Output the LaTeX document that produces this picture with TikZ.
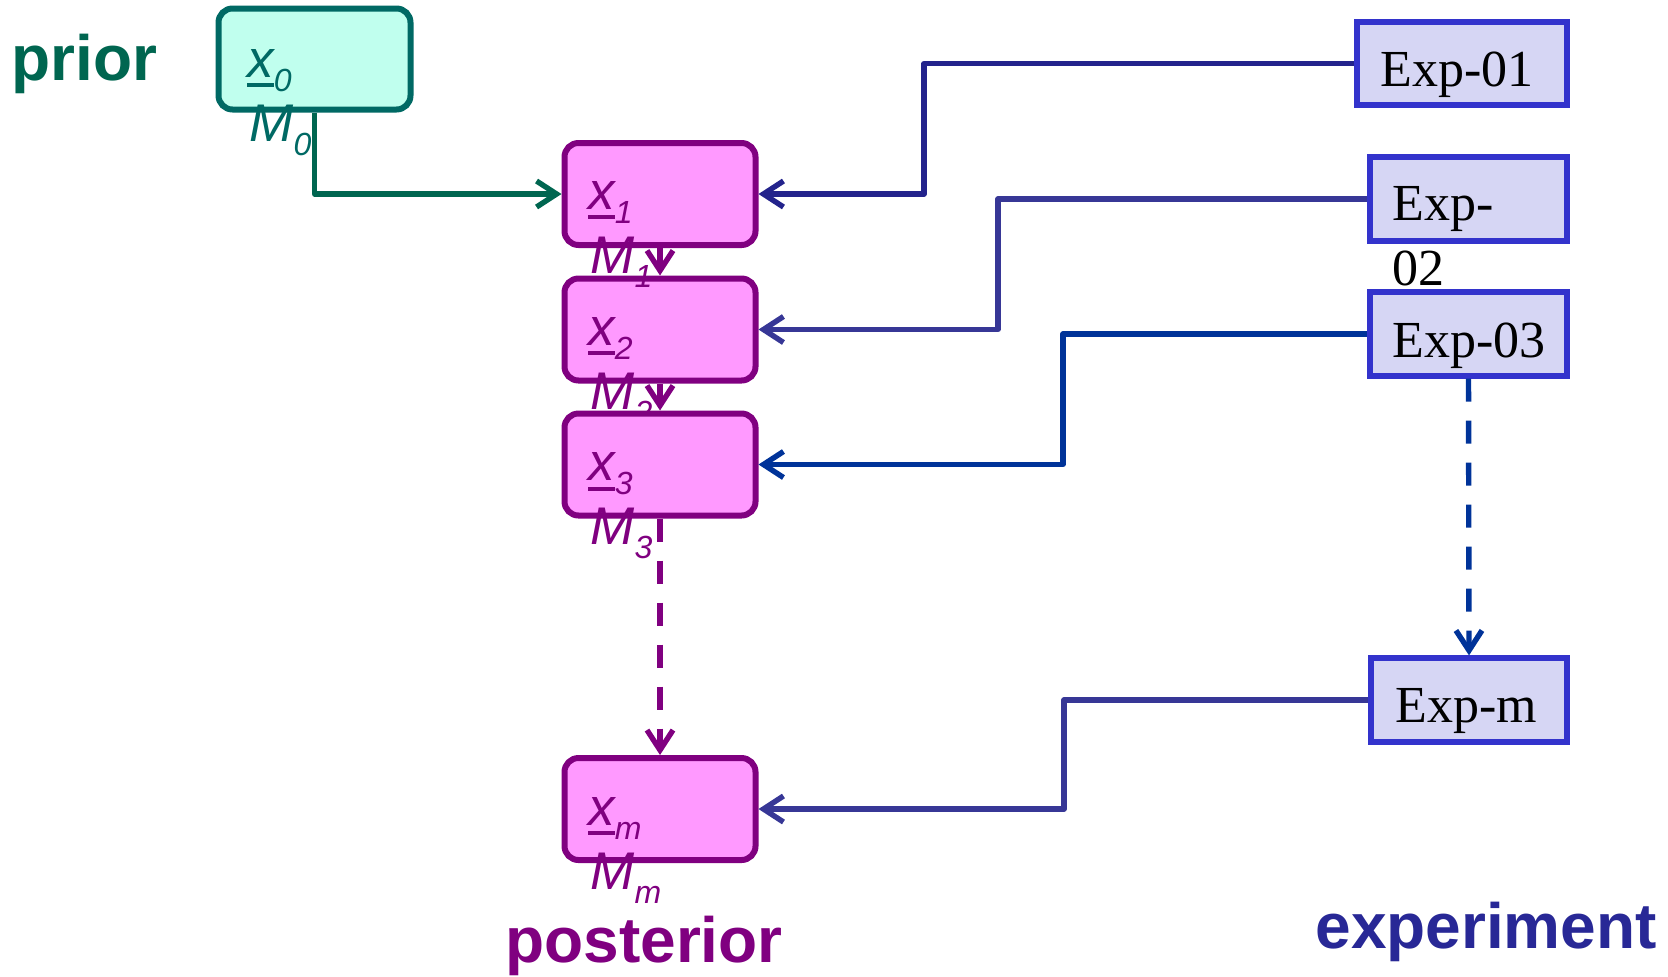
\documentclass[tikz,border=0pt]{standalone}
\usepackage{fontspec}
\setmainfont{Liberation Serif}
\newfontfamily\arialf{Liberation Sans}
\usetikzlibrary{arrows.meta}
\definecolor{priorc}{RGB}{0,102,80}
\definecolor{tealc}{RGB}{0,105,100}
\definecolor{mintc}{RGB}{192,255,238}
\definecolor{purc}{RGB}{128,0,128}
\definecolor{pinkc}{RGB}{255,153,255}
\definecolor{expfill}{RGB}{214,214,244}
\definecolor{expdraw}{RGB}{51,51,204}
\definecolor{navya}{RGB}{35,35,140}
\definecolor{navyb}{RGB}{55,55,150}
\definecolor{bluec}{RGB}{0,51,153}
\definecolor{expc}{RGB}{40,40,150}
\newcommand\ulx{\rlap{\rule[-5pt]{13.5pt}{2pt}}x}
\newcommand\subs[1]{\raisebox{-7pt}{\fontsize{16}{16}\selectfont #1}}
\begin{document}
\begin{tikzpicture}[x=0.5pt,y=-0.5pt,
 statebox/.style={draw=purc, fill=pinkc, line width=3pt, rounded corners=7pt,
   minimum width=95.5pt, minimum height=51pt, inner sep=0pt},
 priorbox/.style={statebox, draw=tealc, fill=mintc, minimum width=96pt, minimum height=50.5pt},
 expbox/.style={draw=expdraw, fill=expfill, line width=2.6pt, minimum width=98.5pt,
   minimum height=42pt, inner sep=0pt},
 lab/.style={anchor=base west, inner sep=0pt, font=\arialf\itshape\fontsize{26.5}{32}\selectfont},
 exptext/.style={anchor=base west, inner sep=0pt, font=\fontsize{26}{32.5}\selectfont},
 head/.style={anchor=base west, inner sep=0pt, font=\arialf\bfseries\fontsize{32}{38}\selectfont},
 conn/.style={line width=2.7pt, line join=round, -{Straight Barb[length=10pt,width=13pt]}},
 dashconn/.style={conn, dash pattern=on 11.5pt off 9.5pt},
]
\useasboundingbox (0,0) rectangle (1668,976);

% headings
\node[head, text=priorc] (prior) at (11,80) {prior};
\node[head, text=purc] (post) at (505,962) {posterior};
\node[head, text=expc] (expt) at (1315,948) {experiment};

% experiment boxes
\node[expbox, minimum width=105pt, minimum height=41.5pt] (e1) at (1462,63.5) {};
\node[expbox] (e2) at (1468.5,199) {};
\node[expbox] (e3) at (1468.5,334) {};
\node[expbox, minimum width=98pt] (em) at (1469,700) {};
\node[exptext] (e1t) at (1380,86) {Exp-01};
\node[exptext] (e2t) at (1392,220) {Exp-};
\node[exptext] (e2u) at (1392,285) {02};
\node[exptext] (e3t) at (1392,357) {Exp-03};
\node[exptext] (emt) at (1395,722) {Exp-m};

% state boxes
\node[priorbox] (x0) at (314.5,59) {};
\node[statebox] (x2) at (660,329.5) {};
\node[statebox] (x1) at (660,194) {};
\node[lab, text=tealc] (x0x) at (247,77) {\ulx\subs{0}};
\node[lab, text=tealc] (x0M) at (249,141) {M\subs{0}};
\node[lab, text=purc] (x1x) at (588,209) {\ulx\subs{1}};
\node[lab, text=purc] (x1M) at (590,273) {M\subs{1}};
\node[lab, text=purc] (x2x) at (588,345) {\ulx\subs{2}};
\node[lab, text=purc] (x2M) at (590,409) {M\subs{2}};
\node[statebox] (x3) at (660,464.5) {};
\node[lab, text=purc] (x3x) at (588,480.5) {\ulx\subs{3}};
\node[lab, text=purc] (x3M) at (590,544.5) {M\subs{3}};
\node[statebox] (xm) at (660,809) {};
\node[lab, text=purc] (xmx) at (588,825) {\ulx\subs{m}};
\node[lab, text=purc] (xmM) at (590,889) {M\subs{m}};

% bend points
\coordinate (b1) at (924,0);
\coordinate (b2) at (998,0);
\coordinate (b3) at (1063,0);
\coordinate (bm) at (1064,0);

% connectors
\draw[conn, draw=priorc] (x0.south) |- (x1.west);
\draw[conn, draw=purc] (x1.south) -- (x2.north);
\draw[conn, draw=purc] (x2.south) -- (x3.north);
\draw[dashconn, draw=purc] (x3.south) -- (xm.north);
\draw[conn, draw=navya] (e1.west) -- (e1.west -| b1) -- (b1 |- x1.east) -- (x1.east);
\draw[conn, draw=navyb] (e2.west) -- (e2.west -| b2) -- (b2 |- x2.east) -- (x2.east);
\draw[conn, draw=bluec] (e3.west) -- (e3.west -| b3) -- (b3 |- x3.east) -- (x3.east);
\draw[conn, draw=navyb] (em.west) -- (em.west -| bm) -- (bm |- xm.east) -- (xm.east);
\draw[dashconn, draw=bluec] (e3.south) -- (em.north);
\end{tikzpicture}
\end{document}
